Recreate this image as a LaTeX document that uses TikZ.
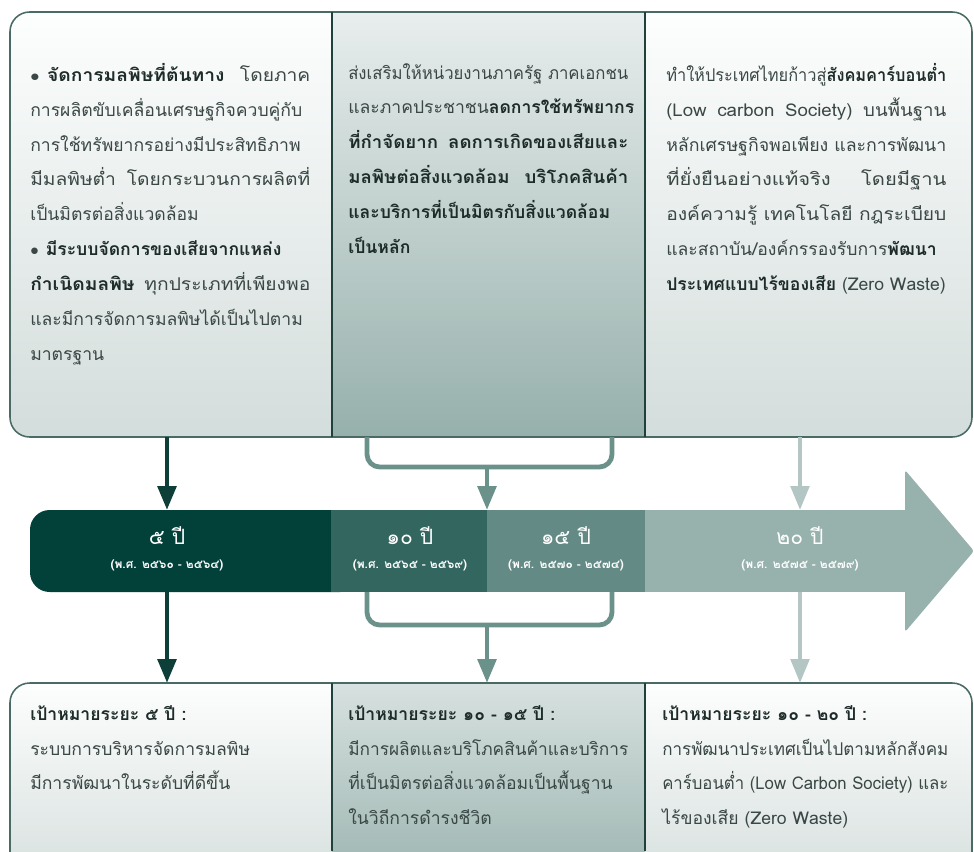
\documentclass[tikz,border=0pt]{standalone}
\usepackage{fontspec}
\newfontfamily\thaifont[Script=Thai]{Loma}
\usetikzlibrary{arrows.meta}

\definecolor{segA}{HTML}{02403A}
\definecolor{segB}{HTML}{346660}
\definecolor{segC}{HTML}{648A85}
\definecolor{segD}{HTML}{97B1AC}
\definecolor{arrA}{HTML}{0D3F38}
\definecolor{arrB}{HTML}{6B918B}
\definecolor{arrC}{HTML}{B3C6C3}
\definecolor{paneltop}{HTML}{FDFEFE}
\definecolor{panelbot}{HTML}{D3DDDB}
\definecolor{midtop}{HTML}{E8EEED}
\definecolor{midbot}{HTML}{96B0AB}
\definecolor{frame}{HTML}{4A6A65}
\definecolor{divider}{HTML}{1F403B}
\definecolor{txt}{HTML}{3A4745}
\definecolor{txtbold}{HTML}{1D2B29}

\newcommand{\hl}[1]{{\bfseries\color{txtbold}#1}}
\newcommand{\bul}{$\bullet$\hspace{5pt}}
% justified line and squeezed line
\newcommand{\jl}[2][6.6cm]{\resizebox{7cm}{\height}{\hbox to #1{#2}}}
\newcommand{\fl}[2][7cm]{\resizebox{#1}{\height}{#2}}

\begin{document}
\begin{tikzpicture}[x=0.025cm, y=-0.025cm,
    every node/.style={font=\thaifont},
    body/.style={anchor=north west, align=left, text=txt, inner sep=0pt,
      font=\thaifont\fontsize{12.5}{24.8}\selectfont},
    years/.style={text=white, font=\thaifont\fontsize{15}{18}\selectfont},
    span/.style={text=white, font=\thaifont\bfseries\fontsize{8.5}{10}\selectfont},
    linkA/.style={arrA, line width=3.4pt, -{Triangle[length=17pt, width=13pt]}},
    linkB/.style={arrB, line width=3.4pt, rounded corners=9pt},
    linkC/.style={arrC, line width=3pt, -{Triangle[length=17pt, width=13pt]}}]

    \clip (0,0) rectangle (974,851);

    % Top panel
    \begin{scope}
        \clip[rounded corners=14pt] (10,12) rectangle (972,437);
        \shade[top color=paneltop, bottom color=panelbot] (10,12) rectangle (332,437);
        \shade[top color=midtop, bottom color=midbot] (332,12) rectangle (645,437);
        \shade[top color=paneltop, bottom color=panelbot] (645,12) rectangle (972,437);
    \end{scope}
    \draw[frame, line width=1.1pt, rounded corners=14pt] (10,12) rectangle (972,437);
    \draw[divider, line width=0.8pt] (332,12) -- (332,437) (645,12) -- (645,437);

    % Bottom panel
    \begin{scope}
        \clip[rounded corners=14pt] (10,683) rectangle (972,900);
        \shade[top color=paneltop, bottom color=panelbot] (10,683) rectangle (332,900);
        \shade[top color=midtop!80!midbot, bottom color=midbot] (332,683) rectangle (645,900);
        \shade[top color=paneltop, bottom color=panelbot] (645,683) rectangle (972,900);
    \end{scope}
    \draw[frame, line width=1.1pt, rounded corners=14pt] (10,900) -- (10,683) -- (972,683) -- (972,900);
    \draw[divider, line width=0.8pt] (332,683) -- (332,851) (645,683) -- (645,851);

    % Timeline bar
    \fill[segA, rounded corners=14pt] (30,510) rectangle (360,592);
    \fill[segB] (331,510) rectangle (487,592);
    \fill[segC] (487,510) rectangle (645,592);
    \fill[segD] (645,510) rectangle (906,592);
    \fill[segD, rounded corners=2pt] (905,470) -- (974,551) -- (905,632) -- cycle;

    \node (y5) [years] at (167,536) {๕ ปี};
    \node (y5s) [span] at (167,565) {(พ.ศ. ๒๕๖๐ - ๒๕๖๔)};
    \node (y10) [years] at (410,536) {๑๐ ปี};
    \node (y10s) [span] at (410,565) {(พ.ศ. ๒๕๖๕ - ๒๕๖๙)};
    \node (y15) [years] at (566,536) {๑๕ ปี};
    \node (y15s) [span] at (566,565) {(พ.ศ. ๒๕๗๐ - ๒๕๗๔)};
    \node (y20) [years] at (800,536) {๒๐ ปี};
    \node (y20s) [span] at (800,565) {(พ.ศ. ๒๕๗๕ - ๒๕๗๙)};

    % Link points
    \coordinate (topA) at (167,437);
    \coordinate (topB1) at (367,437);
    \coordinate (topB2) at (612,437);
    \coordinate (topBm) at (487,467);
    \coordinate (topC) at (800,437);
    \coordinate (barA) at (167,510);
    \coordinate (barB) at (487,510);
    \coordinate (barC) at (800,510);
    \coordinate (lowA) at (167,592);
    \coordinate (lowB1) at (367,592);
    \coordinate (lowB2) at (612,592);
    \coordinate (lowBm) at (487,625);
    \coordinate (lowC) at (800,592);
    \coordinate (goalA) at (167,683);
    \coordinate (goalB) at (487,683);
    \coordinate (goalC) at (800,683);

    % Edges
    \draw[linkA] (topA) -- (barA);
    \draw[linkB] (topB1) -- (topB1 |- topBm) -- (topB2 |- topBm) -- (topB2);
    \draw[linkA, arrB] (topBm) -- (barB);
    \draw[linkC] (topC) -- (barC);
    \draw[linkA] (lowA) -- (goalA);
    \draw[linkB] (lowB1) -- (lowB1 |- lowBm) -- (lowB2 |- lowBm) -- (lowB2);
    \draw[linkA, arrB] (lowBm) -- (goalB);
    \draw[linkC] (lowC) -- (goalC);

    % Top texts
    \node (pol1) [body] at (30,63) {%
        \jl[6.4cm]{\bul\hl{จัดการมลพิษที่ต้นทาง} โดยภาค}\\
        การผลิตขับเคลื่อนเศรษฐกิจควบคู่กับ\\
        การใช้ทรัพยากรอย่างมีประสิทธิภาพ\\
        \jl[6.4cm]{มีมลพิษต่ำ โดยกระบวนการผลิตที่}\\
        เป็นมิตรต่อสิ่งแวดล้อม\\
        \bul\hl{มีระบบจัดการของเสียจากแหล่ง}\\
        \jl[6.4cm]{\hl{กำเนิดมลพิษ} ทุกประเภทที่เพียงพอ}\\
        และมีการจัดการมลพิษได้เป็นไปตาม\\
        มาตรฐาน};
    \node (pol2) [body] at (348,63) {%
        \fl{ส่งเสริมให้หน่วยงานภาครัฐ ภาคเอกชน}\\
        และภาคประชาชน\hl{ลดการใช้ทรัพยากร}\\
        \jl{\hl{ที่กำจัดยาก ลดการเกิดของเสียและ}}\\
        \jl{\hl{มลพิษต่อสิ่งแวดล้อม บริโภคสินค้า}}\\
        \hl{และบริการที่เป็นมิตรกับสิ่งแวดล้อม}\\
        \hl{เป็นหลัก}};
    \node (pol3) [body] at (666,63) {%
        \fl{ทำให้ประเทศไทยก้าวสู่\hl{สังคมคาร์บอนต่ำ}}\\
        \jl{(Low carbon Society) บนพื้นฐาน}\\
        \fl{หลักเศรษฐกิจพอเพียง และการพัฒนา}\\
        \jl[6.1cm]{ที่ยั่งยืนอย่างแท้จริง โดยมีฐาน}\\
        \fl{องค์ความรู้ เทคโนโลยี กฎระเบียบ}\\
        และสถาบัน/องค์กรรองรับการ\hl{พัฒนา}\\
        \hl{ประเทศแบบไร้ของเสีย} (Zero Waste)};

    % Goal texts
    \node (goal1) [body] at (30,705) {%
        \hl{เป้าหมายระยะ ๕ ปี :}\\
        ระบบการบริหารจัดการมลพิษ\\
        มีการพัฒนาในระดับที่ดีขึ้น};
    \node (goal2) [body] at (348,705) {%
        \hl{เป้าหมายระยะ ๑๐ - ๑๕ ปี :}\\
        \fl{มีการผลิตและบริโภคสินค้าและบริการ}\\
        ที่เป็นมิตรต่อสิ่งแวดล้อมเป็นพื้นฐาน\\
        ในวิถีการดำรงชีวิต};
    \node (goal3) [body] at (662,705) {%
        \hl{เป้าหมายระยะ ๑๐ - ๒๐ ปี :}\\
        \fl[7.15cm]{การพัฒนาประเทศเป็นไปตามหลักสังคม}\\
        \fl[7.15cm]{คาร์บอนต่ำ (Low Carbon Society) และ}\\
        ไร้ของเสีย (Zero Waste)};

\end{tikzpicture}
\end{document}
